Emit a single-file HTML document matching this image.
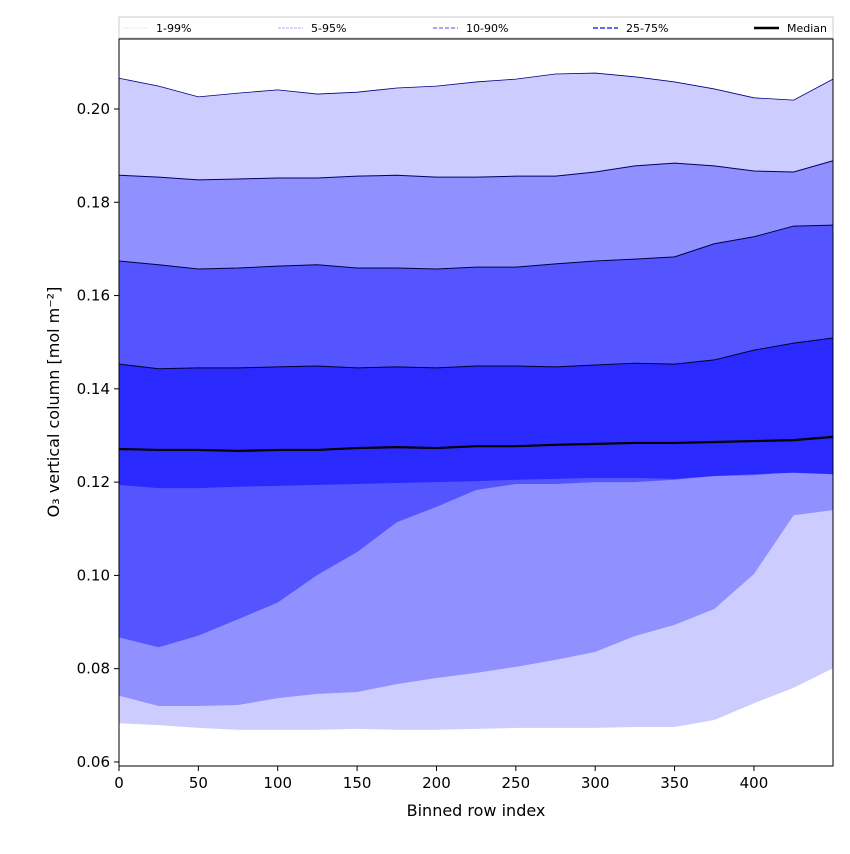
<!DOCTYPE html>
<html><head><meta charset="utf-8"><style>
body{margin:0;background:#fff;font-family:"DejaVu Sans","Liberation Sans",sans-serif}
</style></head><body>
<svg id="c" width="850" height="850" xmlns="http://www.w3.org/2000/svg"></svg>
<script>
const xs=[0,25,50,75,100,125,150,175,200,225,250,275,300,325,350,375,400,425,450];
const p99=[.2066,.2049,.2026,.2034,.2041,.2032,.2036,.2045,.2049,.2058,.2064,.2075,.2077,.2069,.2058,.2043,.2024,.2019,.2064];
const p95=[.1858,.1854,.1848,.1850,.1852,.1852,.1856,.1858,.1854,.1854,.1856,.1856,.1865,.1878,.1884,.1878,.1867,.1865,.1889];
const p90=[.1674,.1666,.1657,.1659,.1663,.1666,.1659,.1659,.1657,.1661,.1661,.1668,.1674,.1678,.1683,.1711,.1726,.1749,.1751];
const p75=[.1453,.1443,.1445,.1445,.1447,.1449,.1445,.1447,.1445,.1449,.1449,.1447,.1451,.1455,.1453,.1462,.1483,.1498,.1509];
const med=[.1271,.1269,.1269,.1267,.1269,.1269,.1273,.1275,.1273,.1277,.1277,.1280,.1282,.1284,.1284,.1286,.1288,.1290,.1297];
const p25=[.1194,.1187,.1187,.1190,.1192,.1194,.1196,.1198,.1200,.1202,.1205,.1207,.1209,.1209,.1207,.1213,.1217,.1220,.1217];
const p10=[.0867,.0846,.0871,.0906,.0942,.1001,.1050,.1114,.1147,.1183,.1196,.1196,.1200,.1200,.1205,.1213,.1215,.1222,.1226];
const p5=[.0742,.0720,.0720,.0722,.0737,.0746,.0750,.0767,.0780,.0791,.0804,.0819,.0836,.0870,.0894,.0928,.1003,.1129,.1140];
const p1=[.0683,.0679,.0673,.0669,.0669,.0669,.0671,.0669,.0669,.0671,.0673,.0673,.0673,.0675,.0675,.0690,.0726,.0759,.0801];
const xTicks=[0,50,100,150,200,250,300,350,400];
const yTicks=[0.06,0.08,0.10,0.12,0.14,0.16,0.18,0.20];
const legendLabels=["1-99%","5-95%","10-90%","25-75%","Median"];

const L=119,R=833,T=39,B=766,XMAX=449.8;
const X=v=>L+(v/XMAX)*(R-L);
const Y=v=>109+(0.20-v)*4664;
const svg=document.getElementById('c');
const NS="http://www.w3.org/2000/svg";
function mk(t,a,p){const e=document.createElementNS(NS,t);for(const k in a)e.setAttribute(k,a[k]);(p||svg).appendChild(e);return e;}
function xv(i){return Math.min(xs[i],XMAX);}
function band(lo,hi,fill,name){
  let d="M"+xs.map((x,i)=>X(xv(i))+","+Y(hi[i])).join("L");
  for(let i=xs.length-1;i>=0;i--)d+="L"+X(xv(i))+","+Y(lo[i]);
  const p=mk('path',{d:d+"Z",fill:fill});
  
  
}
function line(arr,stroke,w,name){
  const p=mk('path',{d:"M"+xs.map((x,i)=>X(xv(i))+","+Y(arr[i])).join("L"),fill:"none",stroke:stroke,"stroke-width":w});
  
  
}
band(p1,p99,"#ccccff","band-1-99");
band(p5,p95,"#9090ff","band-5-95");
band(p10,p90,"#5555ff","band-10-90");
band(p25,p75,"#2a2aff","band-25-75");
line(p99,"#000080",0.8,"line-p99");
line(p95,"#000060",1,"line-p95");
line(p90,"#000040",1,"line-p90");
line(p75,"#000030",1,"line-p75");
line(med,"#000",2.2,"median-line");
const frame=mk('rect',{x:L,y:T,width:R-L,height:B-T,fill:"none",stroke:"#000","stroke-width":1});

xTicks.forEach(v=>{
  mk('line',{x1:X(v),x2:X(v),y1:B,y2:B+5,stroke:"#000"});
  const t=mk('text',{x:X(v),y:B+22,"font-size":15,"text-anchor":"middle"});t.textContent=v;
  
});
yTicks.forEach(v=>{
  mk('line',{x1:L-5,x2:L,y1:Y(v),y2:Y(v),stroke:"#000"});
  const t=mk('text',{x:L-9,y:Y(v)+5,"font-size":15,"text-anchor":"end"});t.textContent=v.toFixed(2);
  
});
const xl=mk('text',{x:(L+R)/2,y:816,"font-size":16,"text-anchor":"middle"});xl.textContent="Binned row index";

const yl=mk('text',{x:59,y:402,"font-size":16,"text-anchor":"middle",transform:"rotate(-90 59 402)"});yl.textContent="O₃ vertical column [mol m⁻²]";

const lg=mk('g',{});
mk('rect',{x:119,y:17,width:714,height:21,fill:"#fff",stroke:"#ccc"},lg);
const lx=[123,278,433,593,754];
const ls=[{c:"#ddddff",w:1,d:"2,1"},{c:"#aaaaff",w:1,d:"3,1"},{c:"#8888ff",w:1.5,d:"4,2"},{c:"#6666ff",w:2,d:"5,2"},{c:"#000",w:2.5,d:""}];
legendLabels.forEach((s,i)=>{
  const e=mk('g',{},lg);
  
  
  mk('line',{x1:lx[i],x2:lx[i]+25,y1:28,y2:28,stroke:ls[i].c,"stroke-width":ls[i].w,"stroke-dasharray":ls[i].d},e);
  const t=mk('text',{x:lx[i]+33,y:32,"font-size":11},e);t.textContent=s;
});
</script>
</body></html>
